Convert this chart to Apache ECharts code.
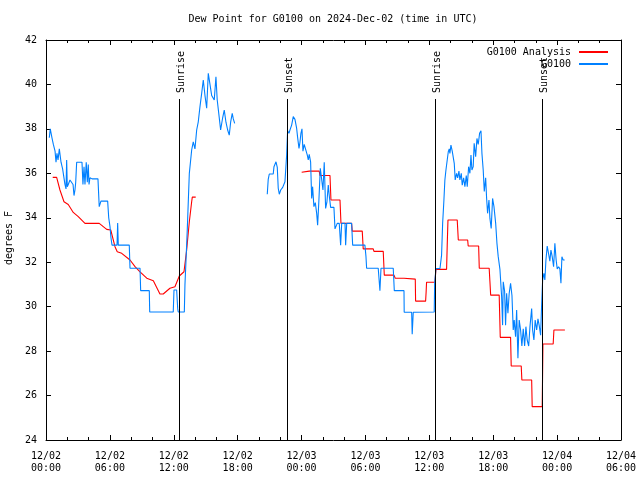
<!DOCTYPE html>
<html><head><meta charset="utf-8">
<script src="https://cdn.jsdelivr.net/npm/echarts@6/dist/echarts.min.js"></script>
<style>html,body{margin:0;padding:0;background:#fff}#c{width:640px;height:480px}</style>
</head><body><div id="c"></div>
<script>
// Hours since 2024-12-02 00:00 UTC
const titleText = 'Dew Point for G0100 on 2024-Dec-02 (time in UTC)';
const yAxisTitle = 'degrees F';
const xTickLabels = ['12/02\n00:00','12/02\n06:00','12/02\n12:00','12/02\n18:00','12/03\n00:00','12/03\n06:00','12/03\n12:00','12/03\n18:00','12/04\n00:00','12/04\n06:00'];
const seriesNames = ['G0100 Analysis', 'G0100'];
const eventHours = [12.52, 22.60, 36.50, 46.60];
const eventNames = ['Sunrise', 'Sunset', 'Sunrise', 'Sunset'];

const obsPart1 = [[0.31,37.6],[0.40,38.0],[0.56,37.6],[0.69,37.3],[0.85,37.0],[0.94,36.5],[1.03,36.9],[1.13,36.6],[1.25,37.1],[1.41,36.5],[1.56,36.2],[1.69,36.2],[1.78,35.5],[1.88,35.3],[1.94,36.6],[2.00,35.4],[2.09,35.5],[2.25,35.7],[2.54,35.5],[2.63,35.0],[2.72,35.25],[2.79,35.6],[2.88,36.5],[3.38,36.5],[3.47,35.5],[3.57,36.3],[3.66,35.5],[3.78,36.5],[3.88,35.6],[3.97,36.4],[4.04,35.5],[4.13,35.8],[4.32,35.75],[4.88,35.75],[5.00,34.5],[5.16,34.75],[5.79,34.75],[5.89,34.0],[6.01,33.6],[6.10,33.1],[6.20,32.77],[6.67,32.77],[6.73,33.76],[6.79,32.77],[7.82,32.77],[7.89,31.73],[8.83,31.73],[8.89,30.72],[9.70,30.72],[9.74,29.76],[11.95,29.76],[12.02,30.75],[12.27,30.75],[12.37,29.9],[12.42,29.76],[12.99,29.76],[13.05,31.0],[13.15,32.1],[13.27,33.5],[13.46,36.0],[13.68,37.05],[13.83,37.42],[13.99,37.1],[14.15,37.95],[14.30,38.32],[14.46,39.0],[14.62,39.6],[14.77,40.2],[14.93,39.5],[15.09,38.93],[15.24,40.5],[15.40,40.0],[15.56,39.5],[15.80,39.3],[15.96,40.35],[16.08,39.3],[16.24,38.63],[16.40,37.95],[16.59,38.5],[16.74,38.85],[16.90,38.3],[17.06,37.95],[17.21,37.72],[17.34,38.3],[17.49,38.7],[17.59,38.45],[17.72,38.25]];
const obsPart2 = [[20.78,35.06],[20.87,35.73],[20.97,35.97],[21.34,35.97],[21.41,36.3],[21.60,36.52],[21.72,36.27],[21.81,35.33],[21.91,35.06],[22.04,35.25],[22.23,35.37],[22.44,35.62],[22.60,36.82],[22.69,37.92],[22.82,37.8],[22.91,37.95],[23.07,38.17],[23.22,38.55],[23.38,38.43],[23.54,38.02],[23.63,37.62],[23.76,37.12],[23.85,37.4],[23.94,37.8],[24.04,38.0],[24.13,37.0],[24.25,37.3],[24.41,37.3],[24.54,36.82],[24.63,36.6],[24.72,36.85],[24.85,36.52],[24.95,34.87],[25.04,35.4],[25.16,34.5],[25.29,34.68],[25.42,34.2],[25.51,33.67],[25.63,34.8],[25.76,36.23],[25.92,36.23],[26.01,35.25],[26.13,36.5],[26.26,34.42],[26.38,34.7],[26.51,35.47],[26.60,35.0],[26.73,34.47],[27.04,34.47],[27.14,33.5],[27.23,33.5],[27.35,33.75],[27.54,33.75],[27.67,32.77],[27.77,33.75],[28.08,33.75],[28.14,32.77],[28.24,33.75],[28.70,33.75],[28.80,32.77],[29.95,32.77],[30.05,32.25],[30.11,31.73],[31.20,31.73],[31.36,30.72],[31.46,31.73],[32.61,31.73],[32.71,30.72],[33.62,30.72],[33.64,29.75],[34.34,29.75],[34.39,28.76],[34.49,29.75],[36.46,29.76],[36.50,31.05],[36.62,31.72],[37.00,31.72],[37.15,32.32],[37.25,33.75],[37.37,34.8],[37.46,35.7],[37.56,36.15],[37.68,36.6],[37.78,36.97],[37.87,37.1],[37.93,36.9],[38.03,37.27],[38.15,37.0],[38.25,37.0],[38.34,36.45],[38.43,35.7],[38.56,36.0],[38.66,35.8],[38.78,36.1],[38.87,35.7],[39.00,36.0],[39.09,35.47],[39.22,35.8],[39.34,35.4],[39.47,35.9],[39.56,35.4],[39.69,36.3],[39.81,36.0],[39.91,36.82],[40.00,36.15],[40.12,36.3],[40.21,37.35],[40.35,36.75],[40.47,37.57],[40.59,37.3],[40.72,37.8],[40.85,37.92],[40.94,36.9],[41.06,36.15],[41.16,35.18],[41.29,35.8],[41.38,34.87],[41.47,34.2],[41.60,34.8],[41.69,33.97],[41.81,33.52],[41.94,34.87],[42.07,34.5],[42.23,33.75],[42.35,32.85],[42.47,32.25],[42.63,31.68],[42.79,30.45],[42.88,29.17],[42.94,31.12],[43.07,30.7],[43.16,29.17],[43.26,30.6],[43.38,29.7],[43.50,30.6],[43.63,31.05],[43.76,30.5],[43.88,28.95],[43.97,29.4],[44.10,28.65],[44.20,29.85],[44.32,27.68],[44.44,29.4],[44.57,28.95],[44.69,28.23],[44.82,29.0],[44.95,28.23],[45.07,29.1],[45.19,28.5],[45.33,28.23],[45.45,29.1],[45.61,29.92],[45.70,28.95],[45.82,28.5],[45.94,29.4],[46.08,28.95],[46.20,29.45],[46.32,29.15],[46.45,28.72],[46.54,30.0],[46.64,31.2],[46.76,31.5],[46.85,31.2],[46.95,32.1],[47.07,32.73],[47.23,32.73],[47.32,32.05],[47.42,32.55],[47.54,32.25],[47.67,31.8],[47.79,32.85],[47.91,32.1],[48.01,31.7],[48.14,31.8],[48.26,31.7],[48.36,31.05],[48.45,32.25],[48.57,32.1],[48.71,32.1]];

const anaPart1 = [[0.63,35.82],[1.00,35.82],[1.31,35.25],[1.69,34.72],[2.09,34.6],[2.56,34.24],[3.03,34.05],[3.66,33.75],[5.00,33.75],[5.70,33.48],[6.08,33.45],[6.48,32.7],[6.69,32.47],[7.11,32.4],[7.89,32.1],[8.36,31.8],[8.83,31.57],[9.46,31.28],[10.08,31.17],[10.70,30.57],[11.01,30.57],[11.64,30.83],[12.11,30.9],[12.52,31.38],[12.96,31.57],[13.21,32.55],[13.46,33.82],[13.68,34.72],[13.74,34.93],[14.06,34.93]];
const anaPart2 = [[24.01,36.05],[24.72,36.1],[25.66,36.1],[25.73,35.9],[26.67,35.9],[26.76,34.8],[27.61,34.8],[27.70,33.75],[28.70,33.75],[28.76,33.4],[29.70,33.4],[29.79,32.6],[30.73,32.6],[30.80,32.49],[31.67,32.49],[31.77,31.42],[32.68,31.42],[32.80,31.28],[33.62,31.28],[33.71,31.24],[34.68,31.24],[34.71,30.25],[35.65,30.25],[35.70,30.67],[35.74,31.1],[36.53,31.1],[36.62,31.68],[37.62,31.68],[37.68,32.77],[37.75,33.9],[38.62,33.9],[38.72,33.0],[39.60,33.0],[39.65,32.73],[40.63,32.73],[40.69,31.73],[41.62,31.73],[41.69,31.13],[41.76,30.52],[42.56,30.52],[42.66,28.62],[43.63,28.62],[43.69,27.33],[44.63,27.33],[44.69,26.7],[45.61,26.7],[45.66,25.5],[46.60,25.5],[46.67,28.32],[47.63,28.32],[47.70,28.95],[48.73,28.95]];

const FONT = '"DejaVu Sans Mono", "Liberation Mono", monospace';
const RED = '#ff0000';
const BLUE = '#0080ff';
const chart = echarts.init(document.getElementById('c'), null, {renderer: 'canvas'});

function lineSeries(name, data, color) {
  return {
    name: name, type: 'line', data: data, showSymbol: false, symbol: 'none',
    lineStyle: {color: color, width: 1.1}, itemStyle: {color: color},
    xAxisIndex: 0, yAxisIndex: 0, animation: false, silent: true, z: 3
  };
}

const axisCommon = {
  axisLine: {show: true, onZero: false, lineStyle: {color: '#000', width: 1}},
  splitLine: {show: false},
  minorSplitLine: {show: false}
};

chart.setOption({
  animation: false,
  backgroundColor: '#fff',
  grid: {left: 46, right: 19, top: 40, bottom: 40, containLabel: false, outerBoundsMode: 'none'},
  graphic: [
    {type: 'text', x: 333, y: 19, style: {text: titleText, font: '10px ' + FONT, fill: '#000', align: 'center', verticalAlign: 'middle'}},
    {type: 'text', x: 9, y: 238, rotation: Math.PI / 2, style: {text: yAxisTitle, font: '10px ' + FONT, fill: '#000', align: 'center', verticalAlign: 'middle'}}
  ],
  legend: {
    data: seriesNames, orient: 'vertical', right: 27, top: 42, align: 'right',
    itemWidth: 29, itemHeight: 2, itemGap: 2, icon: 'rect', selectedMode: false,
    textStyle: {fontFamily: FONT, fontSize: 10, color: '#000', padding: [0, 3, 0, 0]}
  },
  xAxis: [
    Object.assign({}, axisCommon, {
      type: 'value', min: 0, max: 54, interval: 6, position: 'bottom',
      axisTick: {show: true, inside: true, length: 5, lineStyle: {color: '#000'}},
      minorTick: {show: true, splitNumber: 3, length: 3, lineStyle: {color: '#000'}},
      axisLabel: {show: true, formatter: v => xTickLabels[Math.round(v / 6)], color: '#000', fontFamily: FONT, fontSize: 10, lineHeight: 12, margin: 10, showMinLabel: true, showMaxLabel: true}
    }),
    Object.assign({}, axisCommon, {
      type: 'value', min: 0, max: 54, interval: 6, position: 'top',
      axisTick: {show: true, inside: true, length: 5, lineStyle: {color: '#000'}},
      minorTick: {show: true, splitNumber: 3, length: 3, lineStyle: {color: '#000'}},
      axisLabel: {show: false}
    })
  ],
  yAxis: [
    Object.assign({}, axisCommon, {
      type: 'value', min: 24, max: 42, interval: 2, position: 'left',
      axisTick: {show: true, inside: true, length: 5, lineStyle: {color: '#000'}},
      axisLabel: {show: true, color: '#000', fontFamily: FONT, fontSize: 10, margin: 9}
    }),
    Object.assign({}, axisCommon, {
      type: 'value', min: 24, max: 42, interval: 2, position: 'right',
      axisTick: {show: true, inside: true, length: 5, lineStyle: {color: '#000'}},
      axisLabel: {show: false}
    })
  ],
  series: [
    lineSeries(seriesNames[0], anaPart1, RED),
    lineSeries(seriesNames[0], anaPart2, RED),
    lineSeries(seriesNames[1], obsPart1, BLUE),
    lineSeries(seriesNames[1], obsPart2, BLUE),
    {
      type: 'custom', name: 'events', xAxisIndex: 0, yAxisIndex: 0, z: 10, silent: true,
      data: eventHours.map(h => [h, 24]),
      renderItem: function (params, api) {
        const h = api.value(0);
        const top = api.coord([h, 39.33]);
        const bot = api.coord([h, 24]);
        const x = Math.round(top[0]) + 0.5;
        return {
          type: 'group',
          children: [
            {type: 'line', shape: {x1: x, y1: Math.round(top[1]), x2: x, y2: bot[1]}, style: {stroke: '#000', lineWidth: 1}},
            {type: 'text', x: x + 1.5, y: Math.round(top[1]) - 6, rotation: Math.PI / 2,
             style: {text: eventNames[params.dataIndex], font: '10px ' + FONT, fill: '#000', align: 'left', verticalAlign: 'middle'}}
          ]
        };
      }
    }
  ]
});
</script>
</body></html>
